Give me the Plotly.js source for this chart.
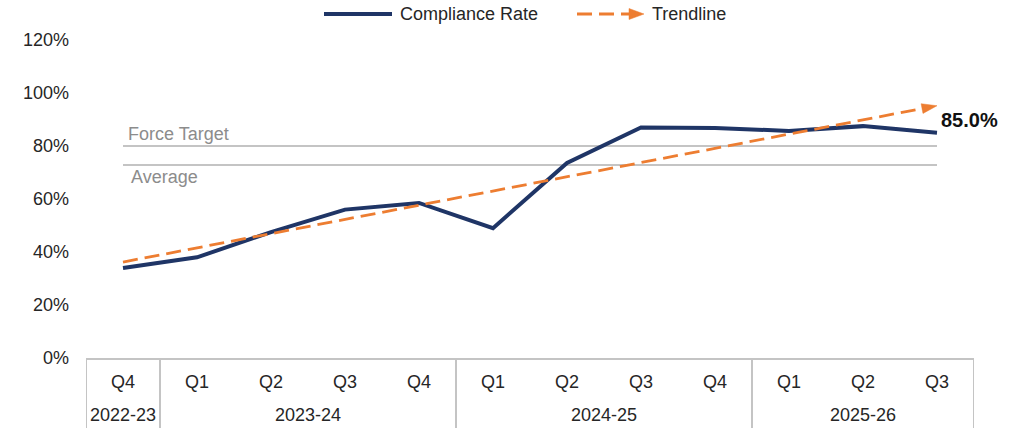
<!DOCTYPE html>
<html><head><meta charset="utf-8">
<script src="https://cdn.plot.ly/plotly-3.0.1.min.js"></script>
<style>html,body{margin:0;padding:0;background:#fff}#chart{width:1030px;height:428px}</style>
</head><body><div id="chart"></div>
<script>
const years = ['2022-23','2023-24','2023-24','2023-24','2023-24','2024-25','2024-25','2024-25','2024-25','2025-26','2025-26','2025-26'];
const quarters = ['Q4','Q1','Q2','Q3','Q4','Q1','Q2','Q3','Q4','Q1','Q2','Q3'];
const complianceRate = [34, 38, 47.5, 56, 58.5, 49, 73.6, 87, 86.8, 85.7, 87.5, 85];
const trendEnds = [36.2, 95.2];
const forceTarget = 80;
const average = 72.8;
const yTicks = [0, 20, 40, 60, 80, 100, 120];
const lastLabel = '85.0%';

const NAVY = '#1f3566', ORANGE = '#ed7d31', GREY = '#c4c4c4', GREYTXT = '#8c8c8c', TXT = '#262626';
const FONT = 'Liberation Sans, Arial, sans-serif';
const DASH = '15px,7px';
const idx = quarters.map((_, i) => i);
const n = idx.length;
const first = idx[0], last = idx[n - 1];

// plot area geometry (pixels) used for margins and the custom legend
const L = 86, T = 40, W = 888, H = 318;
const px = v => (v - L) / W;
const py = v => (T + H - v) / H;
const BOTTOM = -(428 - T - H) / H;

// year groups -> dividers and centred labels
const groups = [];
years.forEach((y, i) => {
  if (!groups.length || groups[groups.length - 1].name !== y) groups.push({name: y, start: i, end: i});
  else groups[groups.length - 1].end = i;
});

const traces = [
  {x: [first, last], y: [forceTarget, forceTarget], type: 'scatter', mode: 'lines',
   line: {color: GREY, width: 2}, hoverinfo: 'skip'},
  {x: [first, last], y: [average, average], type: 'scatter', mode: 'lines',
   line: {color: GREY, width: 2}, hoverinfo: 'skip'},
  {x: idx, y: complianceRate, type: 'scatter', mode: 'lines',
   name: 'Compliance Rate', line: {color: NAVY, width: 4}},
  {x: [first, last], y: trendEnds, type: 'scatter', mode: 'lines+markers', name: 'Trendline',
   line: {color: ORANGE, width: 2.8, dash: DASH},
   marker: {symbol: 'arrow', angleref: 'previous', size: [0, 16], color: ORANGE, opacity: 1,
            line: {color: ORANGE, width: 0.5}}}
];

const shapes = [];
groups.forEach((g, k) => {
  if (k === 0) shapes.push({type: 'line', xref: 'x', yref: 'paper', x0: g.start - 0.5, x1: g.start - 0.5,
    y0: 0, y1: BOTTOM, line: {color: GREY, width: 2}});
  shapes.push({type: 'line', xref: 'x', yref: 'paper', x0: g.end + 0.5, x1: g.end + 0.5,
    y0: 0, y1: BOTTOM, line: {color: GREY, width: 2}});
});
const ly = 14;
shapes.push(
  {type: 'line', xref: 'paper', yref: 'paper', x0: px(324), x1: px(392), y0: py(ly), y1: py(ly),
   line: {color: NAVY, width: 4}},
  {type: 'line', xref: 'paper', yref: 'paper', x0: px(577), x1: px(632), y0: py(ly), y1: py(ly),
   line: {color: ORANGE, width: 2.8, dash: DASH}},
  {type: 'path', xref: 'paper', yref: 'paper',
   path: `M${px(644)},${py(ly)} L${px(629)},${py(ly - 5.5)} L${px(629)},${py(ly + 5.5)} Z`,
   fillcolor: ORANGE, line: {color: ORANGE, width: 0.5}}
);

const annotations = groups.map(g => ({
  xref: 'x', yref: 'paper', x: (g.start + g.end) / 2, y: 0, yanchor: 'middle', yshift: -57,
  text: g.name, showarrow: false, font: {family: FONT, size: 18, color: TXT}
}));
annotations.push(
  {xref: 'paper', yref: 'paper', x: px(398), y: py(ly), xanchor: 'left', yanchor: 'middle',
   text: 'Compliance Rate', showarrow: false, font: {family: FONT, size: 18, color: TXT}},
  {xref: 'paper', yref: 'paper', x: px(650), y: py(ly), xanchor: 'left', yanchor: 'middle',
   text: 'Trendline', showarrow: false, font: {family: FONT, size: 18, color: TXT}},
  {xref: 'x', yref: 'y', x: first, y: forceTarget, xanchor: 'left', yanchor: 'bottom', xshift: 3,
   text: 'Force Target', showarrow: false, font: {family: FONT, size: 18, color: GREYTXT}},
  {xref: 'x', yref: 'y', x: first, y: average, xanchor: 'left', yanchor: 'top', xshift: 6,
   text: 'Average', showarrow: false, font: {family: FONT, size: 18, color: GREYTXT}},
  {xref: 'x', yref: 'y', x: last, y: complianceRate[last], xanchor: 'left', yanchor: 'middle',
   xshift: 2, yshift: 13, text: '<b>' + lastLabel + '</b>', showarrow: false,
   font: {family: FONT, size: 20, color: '#111'}}
);

const layout = {
  width: 1030, height: 428,
  margin: {l: L, r: 1030 - L - W, t: T, b: 428 - T - H},
  paper_bgcolor: '#fff', plot_bgcolor: '#fff',
  font: {family: FONT, size: 18, color: TXT},
  showlegend: false,
  xaxis: {
    range: [-0.5, n - 0.5], tickvals: idx, ticktext: quarters,
    showline: true, linecolor: GREY, linewidth: 2,
    showgrid: false, zeroline: false, ticks: '', ticklabelstandoff: 6,
    tickfont: {family: FONT, size: 18, color: TXT}
  },
  yaxis: {
    range: [0, 120], tickvals: yTicks, ticktext: yTicks.map(v => v + '%'),
    showgrid: false, zeroline: false, showline: false, ticks: '',
    ticklabelstandoff: 16,
    tickfont: {family: FONT, size: 18, color: TXT}
  },
  shapes, annotations
};

Plotly.newPlot('chart', traces, layout, {displayModeBar: false, staticPlot: true});
</script></body></html>
